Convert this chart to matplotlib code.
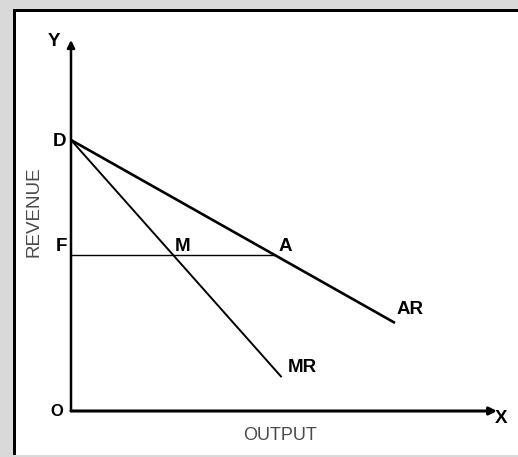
import numpy as np
import matplotlib
matplotlib.use("Agg")
import matplotlib.pyplot as plt
from matplotlib.patches import Rectangle

plt.rcParams['font.family'] = ['Liberation Sans', 'DejaVu Sans']

# Demand (AR) and marginal revenue (MR) lines, both starting at D
ar_x = [0, 10]
ar_y = [10, 3.25]
mr_x = [0, 6.5]
mr_y = [10, 1.25]
price_f = 5.75          # level of F
x_axis_end = 13.15
y_axis_end = 13.69

# points M and A where the price line meets MR and AR
m_x = np.interp(price_f, mr_y[::-1], mr_x[::-1])
a_x = np.interp(price_f, ar_y[::-1], ar_x[::-1])

W, H = 518, 457
ox, oy = 71, 411        # origin in pixels
sx, sy = 32.4, 27.1     # pixels per unit

fig = plt.figure(figsize=(W / 100, H / 100), dpi=100, facecolor="#d9d9d9")
fig.patches.append(Rectangle((13 / W, 2 / H), 1, (446 - 2) / H,
                             transform=fig.transFigure, facecolor="white",
                             edgecolor="none", zorder=-3))
fig.patches.append(Rectangle((13 / W, 2 / H), 2.5 / W, 445 / H,
                             transform=fig.transFigure, facecolor="black", zorder=-2))
fig.patches.append(Rectangle((13 / W, 445.5 / H), 1, 2.5 / H,
                             transform=fig.transFigure, facecolor="black", zorder=-2))

ax = fig.add_axes([0, 0, 1, 1])
ax.set_zorder(2)
ax.set_xlim(-ox / sx, (W - ox) / sx)
ax.set_ylim(-(H - oy) / sy, oy / sy)
ax.axis("off")
ax.patch.set_alpha(0)

# axes with arrows
ax.annotate("", xy=(0, y_axis_end), xytext=(0, 0),
            arrowprops=dict(arrowstyle="-|>", color="black", lw=1.8,
                            mutation_scale=11, shrinkA=0, shrinkB=0))
ax.annotate("", xy=(x_axis_end, 0), xytext=(0, 0),
            arrowprops=dict(arrowstyle="-|>", color="black", lw=2.2,
                            mutation_scale=11, shrinkA=0, shrinkB=0))

ax.plot(ar_x, ar_y, color="black", lw=1.9, solid_capstyle="butt")
ax.plot(mr_x, mr_y, color="black", lw=1.4, solid_capstyle="butt")
ax.plot([0, a_x], [price_f, price_f], color="black", lw=1.0)

bold = dict(fontsize=13.5, fontweight="bold", ha="center", va="center")
ax.text(-0.53, y_axis_end - 0.05, "Y", **bold)
ax.text(-0.36, ar_y[0] - 0.06, "D", **bold)
ax.text(-0.28, price_f + 0.33, "F", **bold)
ax.text(m_x + 0.28, price_f + 0.33, "M", **bold)
ax.text(a_x + 0.33, price_f + 0.33, "A", **bold)
ax.text(ar_x[1] + 0.46, ar_y[1] + 0.48, "AR", **bold)
ax.text(mr_x[1] + 0.65, mr_y[1] + 0.37, "MR", **bold)
ax.text(x_axis_end + 0.13, -0.26, "X", **bold)
ax.text(-0.43, -0.02, "O", fontsize=12, fontweight="bold", ha="center", va="center")

ax.text((280 - ox) / sx, -(435.5 - oy) / sy, "OUTPUT", fontsize=13,
        color="#4a4a4a", ha="center", va="center")
ax.text((34.5 - ox) / sx, (oy - 212) / sy, "REVENUE", fontsize=13.5,
        color="#4a4a4a", ha="center", va="center", rotation=90)

fig.savefig("out.png", dpi=100, facecolor=fig.get_facecolor())
